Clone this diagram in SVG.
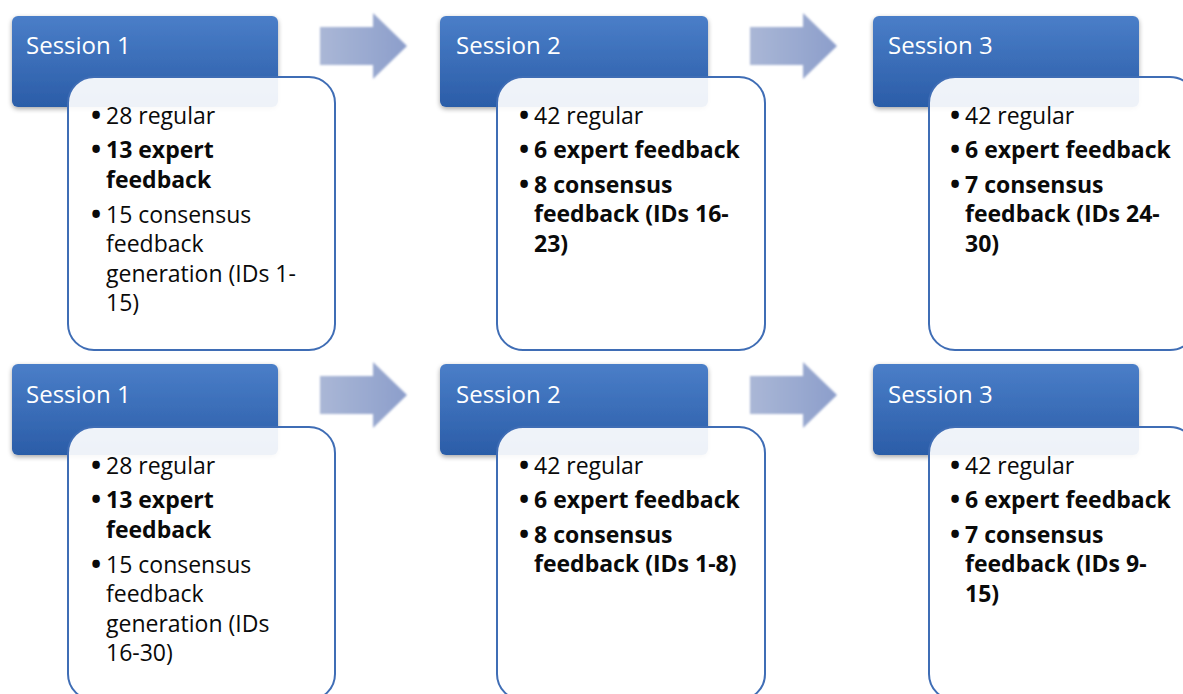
<svg xmlns="http://www.w3.org/2000/svg" width="1183" height="694" viewBox="0 0 1183 694">
<defs>
<linearGradient id="hdr" x1="0" y1="0" x2="0" y2="1">
<stop offset="0" stop-color="#4a7ec8"/>
<stop offset="1" stop-color="#2b5da8"/>
</linearGradient>
<linearGradient id="arr" x1="0" y1="0" x2="1" y2="0">
<stop offset="0" stop-color="#aab7d6"/>
<stop offset="1" stop-color="#8c9ecb"/>
</linearGradient>
<filter id="sh" x="-10%" y="-10%" width="120%" height="130%">
<feGaussianBlur in="SourceAlpha" stdDeviation="2.5"/>
<feOffset dx="0" dy="2" result="b"/>
<feComponentTransfer><feFuncA type="linear" slope="0.35"/></feComponentTransfer>
<feMerge><feMergeNode/><feMergeNode in="SourceGraphic"/></feMerge>
</filter>
<filter id="soft" x="-10%" y="-10%" width="120%" height="120%">
<feGaussianBlur stdDeviation="0.8"/>
</filter>
</defs>
<style>
.hdr{fill:url(#hdr);filter:url(#sh)}
.box{fill:#ffffff;fill-opacity:0.92;stroke:#3f6db5;stroke-width:2}
.ht{font-family:"Open Sans","Liberation Sans",sans-serif;font-size:24px;fill:#ffffff}
.t{font-family:"Open Sans","Liberation Sans",sans-serif;font-size:23px;fill:#0a0a0a}
.b{font-weight:bold}
.bu{font-family:"Open Sans","Liberation Sans",sans-serif;font-size:27px;font-weight:bold;fill:#0a0a0a;text-anchor:middle}
.arr{fill:url(#arr);filter:url(#soft)}
</style>
<rect width="1183" height="694" fill="#ffffff"/>

<g id="connectors">
<path class="arr" d="M320,27 H373 V13 L407,46 L373,79 V65 H320 Z"/>
<path class="arr" d="M750,27 H803 V13 L837,46 L803,79 V65 H750 Z"/>
<path class="arr" d="M320,376 H373 V362 L407,395 L373,428 V414 H320 Z"/>
<path class="arr" d="M750,376 H803 V362 L837,395 L803,428 V414 H750 Z"/>
</g>

<g id="top-session1">
<rect class="hdr" x="12" y="16" width="266" height="91" rx="6"/>
<text class="ht" x="26" y="54">Session 1</text>
<rect class="box" x="68" y="77" width="267" height="273" rx="26"/>
<text class="bu" x="96" y="125">•</text>
<text class="t" x="106" y="124">28 regular</text>
<text class="bu" x="96" y="159">•</text>
<text class="t b" x="106" y="158">13 expert</text>
<text class="t b" x="106" y="188">feedback</text>
<text class="bu" x="96" y="224">•</text>
<text class="t" x="106" y="223">15 consensus</text>
<text class="t" x="106" y="252">feedback</text>
<text class="t" x="106" y="282">generation (IDs 1-</text>
<text class="t" x="106" y="311">15)</text>
</g>

<g id="top-session2">
<rect class="hdr" x="440" y="16" width="268" height="91" rx="6"/>
<text class="ht" x="456" y="54">Session 2</text>
<rect class="box" x="497" y="77" width="268" height="273" rx="26"/>
<text class="bu" x="524" y="125">•</text>
<text class="t" x="534" y="124">42 regular</text>
<text class="bu" x="524" y="159">•</text>
<text class="t b" x="534" y="158">6 expert feedback</text>
<text class="bu" x="524" y="194">•</text>
<text class="t b" x="534" y="193">8 consensus</text>
<text class="t b" x="534" y="222">feedback (IDs 16-</text>
<text class="t b" x="534" y="252">23)</text>
</g>

<g id="top-session3">
<rect class="hdr" x="873" y="16" width="266" height="91" rx="6"/>
<text class="ht" x="888" y="54">Session 3</text>
<rect class="box" x="929" y="77" width="267" height="273" rx="26"/>
<text class="bu" x="955" y="125">•</text>
<text class="t" x="965" y="124">42 regular</text>
<text class="bu" x="955" y="159">•</text>
<text class="t b" x="965" y="158">6 expert feedback</text>
<text class="bu" x="955" y="194">•</text>
<text class="t b" x="965" y="193">7 consensus</text>
<text class="t b" x="965" y="222">feedback (IDs 24-</text>
<text class="t b" x="965" y="252">30)</text>
</g>

<g id="bottom-session1">
<rect class="hdr" x="12" y="364" width="266" height="91" rx="6"/>
<text class="ht" x="26" y="403">Session 1</text>
<rect class="box" x="68" y="427" width="267" height="273" rx="26"/>
<text class="bu" x="96" y="475">•</text>
<text class="t" x="106" y="474">28 regular</text>
<text class="bu" x="96" y="509">•</text>
<text class="t b" x="106" y="508">13 expert</text>
<text class="t b" x="106" y="538">feedback</text>
<text class="bu" x="96" y="574">•</text>
<text class="t" x="106" y="573">15 consensus</text>
<text class="t" x="106" y="602">feedback</text>
<text class="t" x="106" y="632">generation (IDs</text>
<text class="t" x="106" y="661">16-30)</text>
</g>

<g id="bottom-session2">
<rect class="hdr" x="440" y="364" width="268" height="91" rx="6"/>
<text class="ht" x="456" y="403">Session 2</text>
<rect class="box" x="497" y="427" width="268" height="273" rx="26"/>
<text class="bu" x="524" y="475">•</text>
<text class="t" x="534" y="474">42 regular</text>
<text class="bu" x="524" y="509">•</text>
<text class="t b" x="534" y="508">6 expert feedback</text>
<text class="bu" x="524" y="544">•</text>
<text class="t b" x="534" y="543">8 consensus</text>
<text class="t b" x="534" y="572">feedback (IDs 1-8)</text>
</g>

<g id="bottom-session3">
<rect class="hdr" x="873" y="364" width="266" height="91" rx="6"/>
<text class="ht" x="888" y="403">Session 3</text>
<rect class="box" x="929" y="427" width="267" height="273" rx="26"/>
<text class="bu" x="955" y="475">•</text>
<text class="t" x="965" y="474">42 regular</text>
<text class="bu" x="955" y="509">•</text>
<text class="t b" x="965" y="508">6 expert feedback</text>
<text class="bu" x="955" y="544">•</text>
<text class="t b" x="965" y="543">7 consensus</text>
<text class="t b" x="965" y="572">feedback (IDs 9-</text>
<text class="t b" x="965" y="602">15)</text>
</g>
</svg>
